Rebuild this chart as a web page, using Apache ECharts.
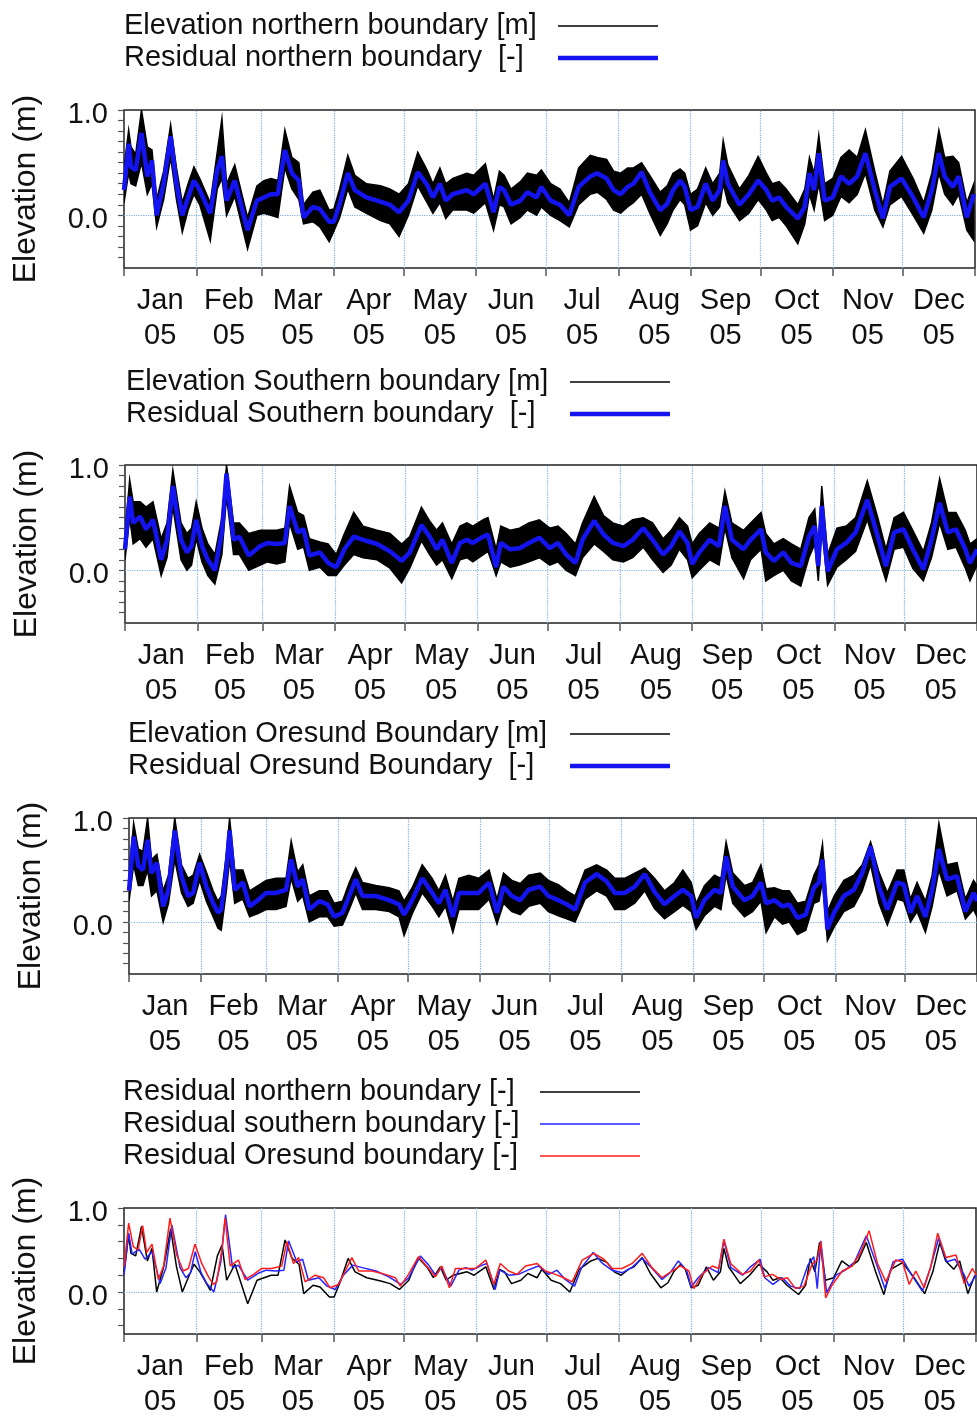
<!DOCTYPE html>
<html>
<head>
<meta charset="utf-8">
<script src="https://cdn.jsdelivr.net/npm/echarts/dist/echarts.min.js"></script>
<style>
  html, body { margin: 0; padding: 0; background: #fff; }
  #chart { width: 977px; height: 1420px; }
</style>
</head>
<body>
<div id="chart"></div>
<script>
// day-of-year axis, months of 2005
const monthNames = ['Jan', 'Feb', 'Mar', 'Apr', 'May', 'Jun', 'Jul', 'Aug', 'Sep', 'Oct', 'Nov', 'Dec']
const monthStarts = [0, 31, 59, 90, 120, 151, 181, 212, 243, 273, 304, 334, 365]
const monthMids = [15.5, 45, 74.5, 105, 135.5, 166, 196.5, 227.5, 258, 288.5, 319, 349.5]
const yTicksFine = [-0.4, -0.3, -0.2, -0.1, 0, 0.1, 0.2, 0.3, 0.4, 0.5, 0.6, 0.7, 0.8, 0.9, 1.0]
const yTicksCoarse = [-0.4, -0.2, 0, 0.2, 0.4, 0.6, 0.8, 1.0]
const yLabels = [0, 1]

// northern boundary
const nDays = [0, 2, 3, 5, 7.5, 10, 12, 14, 17, 20,
  22.5, 25, 27.5, 30, 32.5, 37, 40, 42, 44, 47.5,
  53, 57, 60, 63, 66, 69, 72, 75, 77, 81,
  84, 88, 90, 92.5, 96, 99, 104, 110, 114, 118,
  122, 126, 130, 132.5, 135.5, 138, 141, 147, 150, 155,
  158.5, 161, 163, 166, 170, 173, 177, 179, 183, 187,
  191, 195, 200, 203, 207, 210, 213, 216, 218.5, 222,
  225.5, 230, 233, 235.5, 238.5, 240.5, 243, 246, 249.5, 252.5,
  255.5, 257, 259, 264, 268, 272, 275.5, 278, 281, 284,
  289, 292, 294, 296, 298, 300.5, 304, 307.5, 311, 314.5,
  318, 322, 325.5, 328.5, 333.5, 338.5, 343, 346.5, 349.5, 352,
  355.5, 358, 361.5, 364.5]
const nResid = [0.24, 0.68, 0.46, 0.43, 0.78, 0.37, 0.52, 0.0, 0.3, 0.75,
  0.3, 0.0, 0.17, 0.33, 0.24, 0.02, 0.43, 0.56, 0.14, 0.33,
  -0.14, 0.14, 0.17, 0.2, 0.2, 0.62, 0.4, 0.33, -0.02, 0.08,
  0.06, -0.06, -0.06, 0.11, 0.4, 0.24, 0.17, 0.13, 0.1, 0.03,
  0.14, 0.41, 0.29, 0.17, 0.3, 0.14, 0.2, 0.24, 0.2, 0.3,
  0.03, 0.27, 0.24, 0.1, 0.14, 0.22, 0.17, 0.27, 0.14, 0.1,
  0.0, 0.27, 0.37, 0.4, 0.35, 0.24, 0.2, 0.27, 0.3, 0.41,
  0.22, 0.05, 0.11, 0.24, 0.33, 0.27, 0.05, 0.08, 0.3, 0.14,
  0.24, 0.52, 0.3, 0.1, 0.2, 0.33, 0.24, 0.14, 0.17, 0.08,
  -0.03, 0.08, 0.4, 0.24, 0.59, 0.14, 0.17, 0.37, 0.3, 0.37,
  0.59, 0.24, -0.03, 0.27, 0.35, 0.17, -0.02, 0.24, 0.59, 0.37,
  0.27, 0.37, -0.02, 0.2]
const nHigh = [0.45, 0.81, 0.65, 0.58, 1.0, 0.65, 0.62, 0.15, 0.42, 0.86,
  0.45, 0.12, 0.3, 0.46, 0.35, 0.12, 0.6, 0.92, 0.3, 0.48,
  -0.02, 0.28, 0.33, 0.35, 0.33, 0.81, 0.55, 0.5, 0.1, 0.22,
  0.24, 0.05, 0.06, 0.25, 0.57, 0.38, 0.3, 0.28, 0.25, 0.2,
  0.3, 0.6, 0.43, 0.3, 0.45, 0.3, 0.35, 0.4, 0.38, 0.49,
  0.15, 0.42, 0.38, 0.25, 0.32, 0.4, 0.38, 0.43, 0.3, 0.25,
  0.12, 0.45, 0.57, 0.55, 0.53, 0.42, 0.4, 0.45, 0.45, 0.5,
  0.38, 0.22, 0.28, 0.4, 0.44, 0.4, 0.2, 0.25, 0.45, 0.3,
  0.4, 0.71, 0.48, 0.25, 0.38, 0.56, 0.4, 0.3, 0.32, 0.25,
  0.1, 0.25, 0.55, 0.4, 0.76, 0.3, 0.35, 0.55, 0.62, 0.55,
  0.81, 0.42, 0.1, 0.42, 0.56, 0.35, 0.12, 0.4, 0.81, 0.55,
  0.56, 0.5, 0.12, 0.3]
const nLow = [0.12, 0.4, 0.3, 0.28, 0.5, 0.2, 0.3, -0.11, 0.15, 0.55,
  0.15, -0.16, 0.05, 0.2, 0.1, -0.24, 0.25, 0.35, 0.0, 0.18,
  -0.32, 0.0, 0.02, 0.0, -0.02, 0.45, 0.25, 0.15, -0.08, -0.06,
  -0.11, -0.25, -0.15, -0.02, 0.25, 0.08, 0.02, -0.05, -0.08, -0.2,
  0.0, 0.28, 0.12, 0.02, 0.12, -0.03, 0.05, 0.05, 0.02, 0.12,
  -0.14, 0.1, 0.08, -0.08, -0.02, 0.05, 0.0, 0.08, 0.0, -0.05,
  -0.11, 0.1, 0.2, 0.22, 0.15, 0.05, 0.02, 0.08, 0.12, 0.2,
  0.02, -0.19, -0.08, 0.05, 0.15, 0.1, -0.14, -0.1, 0.12, 0.0,
  0.08, 0.3, 0.12, -0.05, 0.02, 0.15, 0.05, -0.05, -0.02, -0.1,
  -0.27, -0.08, 0.2, 0.05, 0.3, -0.05, 0.0, 0.18, 0.12, 0.2,
  0.4, 0.05, -0.11, 0.1, 0.18, 0.0, -0.17, 0.05, 0.4, 0.2,
  0.1, 0.2, -0.14, -0.24]

// southern boundary
const sDays = [0, 2, 3.5, 6.5, 9, 12, 15.5, 18, 20.5, 24,
  26.5, 28.5, 30.5, 33, 35.5, 38.5, 41.5, 43.5, 46.5, 49,
  53, 58, 61, 65, 68.5, 70.5, 74, 76.5, 79, 83.5,
  87, 90.5, 94, 98, 102, 108, 113.5, 118.5, 122, 127,
  130.5, 133.5, 136, 140, 143.5, 146.5, 149, 153.5, 155.5, 159,
  161, 165, 169, 173, 177.5, 182, 185.5, 189, 193, 196,
  201, 205, 209, 213.5, 217.5, 222, 226, 230.5, 234, 237.5,
  241, 243, 246, 250.5, 254.5, 257, 260, 265, 268, 272.5,
  274.5, 278, 282, 285.5, 289.5, 293, 295.5, 297, 298.5, 301,
  305, 309, 313, 318, 322.5, 326, 329.5, 333.5, 337.5, 342,
  345.5, 349, 352.5, 356, 360, 362, 365]
const sResid = [0.2, 0.7, 0.45, 0.51, 0.39, 0.48, 0.1, 0.29, 0.8, 0.29,
  0.17, 0.23, 0.48, 0.23, 0.1, 0.0, 0.36, 0.92, 0.29, 0.32,
  0.14, 0.23, 0.26, 0.25, 0.26, 0.61, 0.36, 0.39, 0.14, 0.17,
  0.07, 0.03, 0.2, 0.32, 0.29, 0.25, 0.18, 0.09, 0.17, 0.43,
  0.32, 0.2, 0.29, 0.07, 0.26, 0.29, 0.26, 0.32, 0.34, 0.03,
  0.26, 0.2, 0.21, 0.26, 0.31, 0.21, 0.26, 0.15, 0.07, 0.29,
  0.47, 0.34, 0.26, 0.23, 0.29, 0.4, 0.29, 0.15, 0.23, 0.37,
  0.26, 0.06, 0.17, 0.29, 0.23, 0.61, 0.29, 0.2, 0.29, 0.39,
  0.17, 0.09, 0.17, 0.07, 0.04, 0.32, 0.42, 0.04, 0.61, -0.01,
  0.2, 0.26, 0.36, 0.67, 0.32, 0.04, 0.36, 0.39, 0.2, 0.01,
  0.29, 0.64, 0.36, 0.39, 0.2, 0.07, 0.2]
const sHigh = [0.35, 0.86, 0.65, 0.65, 0.6, 0.65, 0.3, 0.45, 0.95, 0.45,
  0.35, 0.4, 0.65, 0.4, 0.25, 0.15, 0.5, 1.0, 0.45, 0.45,
  0.35, 0.38, 0.38, 0.38, 0.4, 0.8, 0.55, 0.52, 0.3, 0.27,
  0.25, 0.15, 0.35, 0.55, 0.42, 0.38, 0.35, 0.25, 0.32, 0.6,
  0.47, 0.38, 0.45, 0.25, 0.42, 0.45, 0.42, 0.48, 0.5, 0.2,
  0.42, 0.38, 0.4, 0.45, 0.48, 0.4, 0.42, 0.35, 0.25, 0.45,
  0.7, 0.52, 0.45, 0.42, 0.48, 0.5, 0.45, 0.3, 0.38, 0.5,
  0.42, 0.25, 0.35, 0.45, 0.4, 0.75, 0.45, 0.38, 0.45, 0.55,
  0.35, 0.25, 0.3, 0.25, 0.2, 0.5, 0.58, 0.2, 0.8, 0.15,
  0.4, 0.42, 0.5, 0.85, 0.5, 0.2, 0.5, 0.55, 0.38, 0.18,
  0.45, 0.87, 0.55, 0.55, 0.38, 0.25, 0.3]
const sLow = [0.1, 0.5, 0.25, 0.3, 0.22, 0.3, -0.05, 0.12, 0.6, 0.1,
  0.0, 0.05, 0.3, 0.08, -0.05, -0.13, 0.15, 0.7, 0.15, 0.15,
  0.0, 0.05, 0.08, 0.06, 0.08, 0.45, 0.2, 0.22, 0.0, 0.03,
  -0.05, -0.05, 0.05, 0.15, 0.12, 0.1, 0.02, -0.12, 0.02, 0.28,
  0.15, 0.05, 0.1, -0.08, 0.1, 0.12, 0.08, 0.15, 0.18, -0.05,
  0.08, 0.03, 0.05, 0.08, 0.12, 0.05, 0.08, 0.0, -0.05, 0.12,
  0.25, 0.18, 0.1, 0.08, 0.12, 0.22, 0.1, -0.02, 0.05, 0.2,
  0.1, -0.07, 0.0, 0.1, 0.05, 0.4, 0.12, -0.08, 0.1, 0.2,
  -0.1, -0.05, 0.0, -0.1, -0.15, 0.12, 0.25, -0.1, 0.4, -0.14,
  0.03, 0.1, 0.18, 0.48, 0.15, -0.1, 0.2, 0.22, 0.02, -0.1,
  0.12, 0.45, 0.2, 0.22, 0.02, -0.1, 0.05]

// Oresund boundary
const oDays = [0, 2, 4, 6, 8, 9.7, 12, 14.7, 17, 19.7,
  22.6, 25.4, 27.6, 30.4, 33.3, 36.2, 38.3, 39.7, 41.9, 43.3,
  45.5, 49, 51.9, 55.5, 59, 63.3, 67.6, 69.8, 72.6, 74.8,
  77.6, 81.9, 85.5, 88.3, 91.9, 94.8, 97.6, 100.5, 106.2, 112,
  116.2, 118.4, 121.9, 126.2, 130.5, 133.4, 136.2, 139.4, 142, 146.2,
  150.5, 155, 158.4, 161.2, 164.8, 168.4, 172, 177, 180.5, 184.8,
  188.4, 192, 196.3, 201.3, 205.6, 209.1, 213.4, 217.7, 222, 226.2,
  230.5, 234.8, 238.4, 242, 244.1, 247.7, 252, 254.8, 257, 259.9,
  264.9, 268.4, 272, 274.2, 277.8, 281.3, 284.2, 287.7, 291.3, 294.8,
  297, 298.5, 300.6, 303.5, 307.7, 312, 315.6, 319.2, 322.8, 326.4,
  330.6, 333.5, 336.4, 339.2, 342.8, 345.7, 348.6, 352.1, 356.4, 360,
  363.5, 365]
const oResid = [0.3, 0.82, 0.54, 0.5, 0.79, 0.47, 0.57, 0.15, 0.31, 0.88,
  0.44, 0.25, 0.28, 0.57, 0.34, 0.18, 0.09, 0.12, 0.5, 0.88,
  0.31, 0.38, 0.15, 0.21, 0.28, 0.28, 0.31, 0.6, 0.34, 0.41,
  0.12, 0.2, 0.17, 0.05, 0.09, 0.25, 0.41, 0.25, 0.25, 0.21,
  0.17, 0.07, 0.21, 0.42, 0.28, 0.18, 0.31, 0.05, 0.28, 0.28,
  0.28, 0.38, 0.09, 0.34, 0.25, 0.21, 0.31, 0.34, 0.25, 0.21,
  0.17, 0.12, 0.38, 0.46, 0.39, 0.28, 0.28, 0.34, 0.46, 0.29,
  0.17, 0.25, 0.31, 0.25, 0.04, 0.21, 0.31, 0.28, 0.63, 0.34,
  0.21, 0.25, 0.38, 0.18, 0.21, 0.15, 0.17, 0.04, 0.07, 0.33,
  0.38, 0.6, -0.07, 0.09, 0.25, 0.31, 0.47, 0.73, 0.34, 0.12,
  0.38, 0.36, 0.09, 0.25, 0.05, 0.31, 0.7, 0.41, 0.44, 0.1,
  0.28, 0.2]
const oHigh = [0.45, 0.95, 0.7, 0.68, 1.0, 0.6, 0.65, 0.3, 0.45, 1.0,
  0.55, 0.42, 0.45, 0.65, 0.48, 0.3, 0.2, 0.25, 0.65, 1.0,
  0.5, 0.5, 0.3, 0.35, 0.4, 0.42, 0.42, 0.78, 0.48, 0.55,
  0.25, 0.3, 0.3, 0.18, 0.2, 0.38, 0.52, 0.38, 0.35, 0.33,
  0.3, 0.2, 0.33, 0.55, 0.42, 0.3, 0.45, 0.2, 0.42, 0.45,
  0.42, 0.5, 0.22, 0.47, 0.4, 0.37, 0.45, 0.47, 0.4, 0.36,
  0.3, 0.25, 0.5, 0.55, 0.5, 0.42, 0.42, 0.47, 0.52, 0.42,
  0.3, 0.38, 0.5, 0.38, 0.18, 0.35, 0.45, 0.42, 0.77, 0.47,
  0.35, 0.38, 0.55, 0.32, 0.33, 0.3, 0.3, 0.18, 0.2, 0.45,
  0.55, 0.75, 0.1, 0.25, 0.4, 0.45, 0.55, 0.77, 0.48, 0.28,
  0.5, 0.5, 0.22, 0.38, 0.2, 0.45, 0.95, 0.55, 0.57, 0.22,
  0.4, 0.35]
const oLow = [0.2, 0.55, 0.35, 0.35, 0.5, 0.25, 0.3, 0.0, 0.18, 0.6,
  0.28, 0.15, 0.18, 0.4, 0.2, 0.05, -0.06, -0.08, 0.3, 0.6,
  0.18, 0.22, 0.05, 0.08, 0.12, 0.12, 0.15, 0.42, 0.2, 0.25,
  0.0, 0.05, 0.05, -0.04, -0.03, 0.12, 0.28, 0.12, 0.12, 0.1,
  0.05, -0.13, 0.08, 0.28, 0.15, 0.05, 0.15, -0.1, 0.12, 0.12,
  0.12, 0.22, -0.02, 0.18, 0.1, 0.07, 0.15, 0.18, 0.1, 0.06,
  0.03, 0.0, 0.22, 0.3, 0.25, 0.12, 0.12, 0.18, 0.3, 0.13,
  0.03, 0.1, 0.16, 0.1, -0.07, 0.06, 0.15, 0.12, 0.45, 0.18,
  0.05, 0.1, 0.2, -0.1, 0.05, -0.02, 0.0, -0.12, -0.08, 0.18,
  0.2, 0.4, -0.18, -0.05, 0.1, 0.15, 0.3, 0.55, 0.18, -0.03,
  0.22, 0.2, 0.0, 0.1, -0.1, 0.15, 0.5, 0.25, 0.3, 0.03,
  0.12, 0.05]

const BLUE = '#1414f0'
const FONT = 'Liberation Sans, Arial, sans-serif'
const TEXT = '#111'

const chart = echarts.init(document.getElementById('chart'))

// one grid per panel
const grids = [
  { left: 124, top: 110, width: 851, height: 158 },
  { left: 125, top: 465, width: 852, height: 158 },
  { left: 129, top: 818, width: 851, height: 156 },
  { left: 124, top: 1208, width: 852, height: 126 }
]

function xAxisFor(i) {
  return {
    type: 'value', gridIndex: i, min: 0, max: 365,
    axisLine: { show: false, onZero: false },
    axisTick: { show: true, customValues: monthStarts, length: 8, lineStyle: { color: '#555', width: 1.5 } },
    axisLabel: {
      customValues: monthMids,
      formatter(v) {
        const k = monthMids.findIndex(m => Math.abs(m - v) < 1)
        return monthNames[k] + '\n05'
      },
      fontSize: 29, lineHeight: 35, color: TEXT, fontFamily: FONT, margin: 15
    },
    splitLine: { show: false }
  }
}

function yAxisFor(i, ticks) {
  return {
    type: 'value', gridIndex: i, min: -0.5, max: 1.0,
    name: 'Elevation (m)', nameLocation: 'middle', nameGap: 82,
    nameTextStyle: { fontSize: 32, color: TEXT, fontFamily: FONT },
    axisLine: { show: false, onZero: false },
    axisTick: { show: true, customValues: ticks, length: 6, lineStyle: { color: '#555', width: 1.2 } },
    axisLabel: {
      customValues: yLabels,
      // labels sit a little below their tick in the original
      formatter: v => '{v|' + v.toFixed(1) + '}',
      rich: { v: { fontSize: 29, color: TEXT, fontFamily: FONT, padding: [9, 0, 0, 0] } },
      fontSize: 29, color: TEXT, fontFamily: FONT, margin: 16
    },
    splitLine: { show: false }
  }
}

// dotted month lines and zero line
function gridLines() {
  const data = monthStarts.slice(1, 12).map(m => ({ xAxis: m }))
  data.push({ yAxis: 0 })
  return {
    z: 1, silent: true, animation: false,
    symbol: ['none', 'none'],
    label: { show: false },
    lineStyle: { type: 'dotted', color: '#7fb2e6', width: 1.2 },
    data
  }
}

const pairs = (days, vals) => days.map((d, k) => [d, vals[k]])

// black band of the hourly elevation, drawn as one polygon hi -> lo
function elevationSeries(name, gi, days, hi, lo) {
  return [
    { // legend proxy (line icon)
      type: 'line', name, xAxisIndex: gi, yAxisIndex: gi, data: [],
      symbol: 'none', lineStyle: { color: '#000', width: 1.5 }, itemStyle: { color: '#000' }
    },
    {
      type: 'custom', name, xAxisIndex: gi, yAxisIndex: gi,
      data: [[0, 0]], clip: true, silent: true, z: 2,
      itemStyle: { color: '#000' },
      renderItem(params, api) {
        const pts = []
        days.forEach((d, k) => pts.push(api.coord([d, hi[k]])))
        for (let k = days.length - 1; k >= 0; k--) pts.push(api.coord([days[k], lo[k]]))
        return {
          type: 'polygon', shape: { points: pts },
          style: { fill: '#000', stroke: '#000', lineWidth: 1.5 }
        }
      }
    }
  ]
}

function residSeries(name, gi, days, vals, color, width, withGrid) {
  const s = {
    type: 'line', name, xAxisIndex: gi, yAxisIndex: gi,
    data: pairs(days, vals),
    symbol: 'none', showSymbol: false, silent: true, z: 3,
    lineStyle: { color, width }, itemStyle: { color }
  }
  if (withGrid) s.markLine = gridLines()
  return s
}

function legendFor(top, left, textWidth, names) {
  return {
    orient: 'vertical', top, left, align: 'right',
    itemWidth: 100, itemHeight: 14, itemGap: 2,
    selectedMode: false,
    itemStyle: { opacity: 0 },
    lineStyle: { width: 'inherit' },
    data: names,
    formatter: name => '{t|' + name + '}',
    textStyle: {
      color: TEXT, fontFamily: FONT, fontSize: 29, lineHeight: 30,
      rich: { t: { width: textWidth, align: 'left', fontSize: 29, fontFamily: FONT, color: TEXT, lineHeight: 30 } }
    }
  }
}

const names = [
  ['Elevation northern boundary [m]', 'Residual northern boundary  [-]'],
  ['Elevation Southern boundary [m]', 'Residual Southern boundary  [-]'],
  ['Elevation Oresund Boundary [m]', 'Residual Oresund Boundary  [-]'],
  ['Residual northern boundary [-]', 'Residual southern boundary [-]', 'Residual Oresund boundary [-]']
]

const option = {
  backgroundColor: '#fff',
  animation: false,
  textStyle: { fontFamily: FONT },
  legend: [
    legendFor(6, 119, 429, names[0]),
    legendFor(362, 121, 439, names[1]),
    legendFor(714, 123, 437, names[2]),
    legendFor(1072, 118, 412, names[3])
  ],
  grid: grids.map(g => Object.assign({ show: true, borderColor: '#222', borderWidth: 1.5, backgroundColor: 'transparent' }, g)),
  xAxis: [0, 1, 2, 3].map(xAxisFor),
  yAxis: [
    yAxisFor(0, yTicksFine),
    yAxisFor(1, yTicksFine),
    yAxisFor(2, yTicksFine),
    yAxisFor(3, yTicksCoarse)
  ],
  series: [
    ...elevationSeries(names[0][0], 0, nDays, nHigh, nLow),
    residSeries(names[0][1], 0, nDays, nResid, BLUE, 4.5, true),
    ...elevationSeries(names[1][0], 1, sDays, sHigh, sLow),
    residSeries(names[1][1], 1, sDays, sResid, BLUE, 4.5, true),
    ...elevationSeries(names[2][0], 2, oDays, oHigh, oLow),
    residSeries(names[2][1], 2, oDays, oResid, BLUE, 4.5, true),
    residSeries(names[3][0], 3, nDays, nResid, '#000', 1.5, true),
    residSeries(names[3][1], 3, sDays, sResid, '#2424ff', 1.5, false),
    residSeries(names[3][2], 3, oDays, oResid, '#ff1c1c', 1.5, false)
  ]
}

chart.setOption(option)
</script>
</body>
</html>
